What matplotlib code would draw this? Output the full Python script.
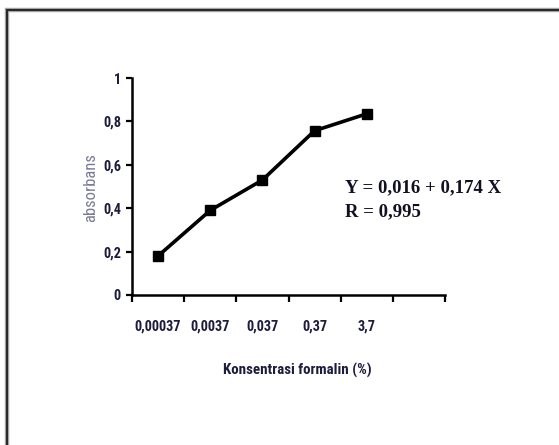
import matplotlib
matplotlib.use("Agg")
import matplotlib.pyplot as plt
from matplotlib import font_manager
from matplotlib.patches import Rectangle

# ---- data ----
categories = ["0,00037", "0,0037", "0,037", "0,37", "3,7"]
absorbance = [0.18, 0.39, 0.53, 0.757, 0.835]
y_ticks = [0, 0.2, 0.4, 0.6, 0.8, 1.0]
y_tick_labels = ["0", "0,2", "0,4", "0,6", "0,8", "1"]
x_label = "Konsentrasi formalin (%)"
y_label = "absorbans"
equation_lines = ["Y = 0,016 + 0,174 X", "R = 0,995"]
n_slots = 6  # category slots on the axis (last one empty)

# pick a condensed sans if one is installed
fl = font_manager.fontManager.ttflist
names = {f.name for f in fl}
sans_kw = dict(fontfamily="Liberation Sans")
narrow = False
for cand in ["Liberation Sans Narrow", "Roboto Condensed", "Open Sans Condensed",
             "Noto Sans Condensed", "DejaVu Sans Condensed"]:
    if cand in names:
        sans_kw = dict(fontfamily=cand)
        narrow = True
        break
if not narrow:
    for f in fl:
        if f.name in ("DejaVu Sans", "Noto Sans", "Open Sans", "Roboto") and \
                str(f.stretch) in ("condensed", "semi-condensed", "extra-condensed"):
            sans_kw = dict(fontfamily=f.name, fontstretch=str(f.stretch))
            narrow = True
            break
fs_tick = 10.3 if narrow else 9.5
fs_xlab = 10.8 if narrow else 9.2
serif = "Liberation Serif"

W, H = 559, 445
fig = plt.figure(figsize=(W / 100, H / 100), dpi=100)
fig.patch.set_facecolor("white")

# outer frame (only left and top visible in the crop)
fig.patches.append(Rectangle((6.5 / W, -0.1), 1.2, 1 - 9.5 / H + 0.1,
                             transform=fig.transFigure, fill=False,
                             edgecolor="#aaaaaa", lw=3.2, clip_on=False))
fig.patches.append(Rectangle((6.5 / W, -0.1), 1.2, 1 - 9.5 / H + 0.1,
                             transform=fig.transFigure, fill=False,
                             edgecolor="#2a2a2a", lw=1.5, clip_on=False))

ax = fig.add_axes([132 / W, 1 - 295 / H, (445 - 132) / W, (295 - 78) / H])
ax.set_facecolor("none")

xs = list(range(len(categories)))
ax.plot(xs, absorbance, color="black", lw=2.6, marker="s", ms=6.5,
        markerfacecolor="black", markeredgecolor="black", zorder=3)

ax.set_xlim(-0.5, n_slots - 0.5)
ax.set_ylim(0, 1)

txt_color = "#1c1c3c"
ax.set_xticks([i - 0.5 for i in range(n_slots + 1)])
ax.set_xticklabels([])
ax.tick_params(axis="x", which="major", direction="out", length=5, width=1.6, color="black")
ax.set_xticks(xs, minor=True)
ax.set_xticklabels(categories, minor=True, fontweight="bold",
                   fontsize=fs_tick, color=txt_color, **sans_kw)
ax.tick_params(axis="x", which="minor", length=0, pad=18)

ax.set_yticks(y_ticks)
ax.set_yticklabels(y_tick_labels, fontweight="bold",
                   fontsize=fs_tick, color=txt_color, **sans_kw)
ax.tick_params(axis="y", direction="out", length=4, width=1.6, color="black", pad=4)

for s in ["top", "right"]:
    ax.spines[s].set_visible(False)
for s in ["left", "bottom"]:
    ax.spines[s].set_linewidth(1.8)
    ax.spines[s].set_color("black")

ax.set_xlabel(x_label, fontweight="bold", fontsize=fs_xlab, color=txt_color, **sans_kw)
ax.xaxis.set_label_coords((297 - 132) / (445 - 132), -(363 - 295) / (295 - 78))
ax.set_ylabel(y_label, fontsize=12, color="#7a7a98", va="center", **sans_kw)
ax.yaxis.set_label_coords(-(132 - 91) / (445 - 132), (295 - 188) / (295 - 78))

fig.text(345 / W, 1 - 188 / H, equation_lines[0], fontfamily=serif, fontweight="bold",
         fontsize=13.5, color="#111122", va="center", ha="left")
fig.text(345 / W, 1 - 212 / H, equation_lines[1], fontfamily=serif, fontweight="bold",
         fontsize=13.5, color="#111122", va="center", ha="left")

fig.savefig("out.png", dpi=100)
